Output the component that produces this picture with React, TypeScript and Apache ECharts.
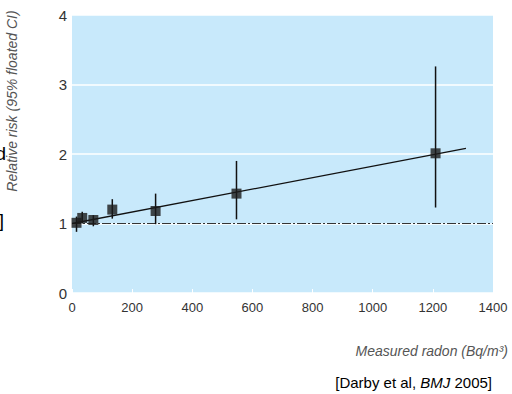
import React, { useEffect, useRef } from "react";
import * as echarts from "echarts";

const radon = [15, 34, 71, 134, 278, 547, 1209];
const relRisk = [1.01, 1.08, 1.05, 1.2, 1.18, 1.43, 2.01];
const ciLow = [0.88, 1.0, 0.96, 1.07, 0.99, 1.06, 1.23];
const ciHigh = [1.1, 1.17, 1.12, 1.35, 1.43, 1.9, 3.26];
const fitLine = [
  [0, 1.0],
  [1310, 2.08],
];
const baseline = [
  [0, 1],
  [1400, 1],
];
const xTicks = [0, 200, 400, 600, 800, 1000, 1200, 1400];
const yTicks = [0, 1, 2, 3, 4];

const sans = "'Liberation Sans', Arial, sans-serif";

export default function App() {
  const ref = useRef<HTMLDivElement>(null);
  useEffect(() => {
    if (!ref.current) return;
    const chart = echarts.init(ref.current, undefined, { renderer: "svg" });
    const errData = radon.map((x, i) => [x, ciLow[i], ciHigh[i]]);
    chart.setOption({
      animation: false,
      backgroundColor: "#ffffff",
      grid: {
        left: 72,
        right: 19,
        top: 15,
        bottom: 101,
        show: true,
        backgroundColor: "#c8e9fb",
        borderWidth: 0,
      },
      xAxis: {
        type: "value",
        min: xTicks[0],
        max: xTicks[xTicks.length - 1],
        interval: 200,
        axisLine: { show: false },
        axisTick: { show: true, inside: true, length: 4, lineStyle: { color: "#ffffff", width: 1 } },
        splitLine: { show: false },
        axisLabel: {
          color: "#333",
          fontSize: 13,
          fontFamily: sans,
          margin: 8,
          formatter: (v: number) => String(v),
        },
      },
      yAxis: {
        type: "value",
        min: yTicks[0],
        max: yTicks[yTicks.length - 1],
        interval: 1,
        axisLine: { show: false },
        axisTick: { show: false },
        splitLine: { show: true, lineStyle: { color: "#ffffff", width: 1.5 } },
        axisLabel: {
          color: "#333",
          fontSize: 15,
          fontFamily: sans,
          margin: 5,
          formatter: (v: number) => String(v),
        },
      },
      graphic: [
        {
          type: "text",
          x: 12,
          y: 101,
          rotation: Math.PI / 2,
          style: {
            text: "Relative risk (95% floated CI)",
            fontSize: 14,
            fontStyle: "italic",
            fontFamily: sans,
            fill: "#555",
            align: "center",
            verticalAlign: "middle",
          },
        },
        {
          type: "text",
          x: 508,
          y: 351,
          style: {
            text: "Measured radon (Bq/m³)",
            fontSize: 14,
            fontStyle: "italic",
            fontFamily: sans,
            fill: "#555",
            align: "right",
            verticalAlign: "middle",
          },
        },
        {
          type: "text",
          x: 492,
          y: 382,
          style: {
            text: "[Darby et al, {i|BMJ} 2005]",
            rich: {
              i: { fontStyle: "italic", fontSize: 15, fontFamily: sans, fill: "#000" },
            },
            fontSize: 15,
            fontFamily: sans,
            fill: "#000",
            align: "right",
            verticalAlign: "middle",
          },
        },
        {
          type: "text",
          x: 6,
          y: 153,
          style: {
            text: "d",
            fontSize: 19,
            fontFamily: sans,
            fill: "#000",
            align: "right",
            verticalAlign: "middle",
          },
        },
        {
          type: "text",
          x: 4,
          y: 220,
          style: {
            text: "]",
            fontSize: 19,
            fontFamily: sans,
            fill: "#000",
            align: "right",
            verticalAlign: "middle",
          },
        },
      ],
      series: [
        {
          type: "line",
          data: baseline,
          symbol: "none",
          lineStyle: { color: "#333", width: 1.2, type: [9, 2, 2, 2] },
          z: 2,
        },
        {
          type: "line",
          data: fitLine,
          symbol: "none",
          lineStyle: { color: "#111", width: 1.3 },
          z: 3,
        },
        {
          type: "custom",
          data: errData,
          z: 4,
          renderItem: (params: any, api: any) => {
            const x = api.value(0);
            const p1 = api.coord([x, api.value(1)]);
            const p2 = api.coord([x, api.value(2)]);
            return {
              type: "line",
              shape: { x1: p1[0], y1: p1[1], x2: p2[0], y2: p2[1] },
              style: { stroke: "#111", lineWidth: 1.5 },
            };
          },
        },
        {
          type: "scatter",
          data: radon.map((x, i) => [x, relRisk[i]]),
          symbol: "rect",
          symbolSize: 10,
          itemStyle: { color: "#1a1a1a" },
          z: 5,
        },
      ],
    });
    return () => chart.dispose();
  }, []);
  return <div ref={ref} style={{ width: 512, height: 394, position: "absolute", left: 0, top: 0 }} />;
}
